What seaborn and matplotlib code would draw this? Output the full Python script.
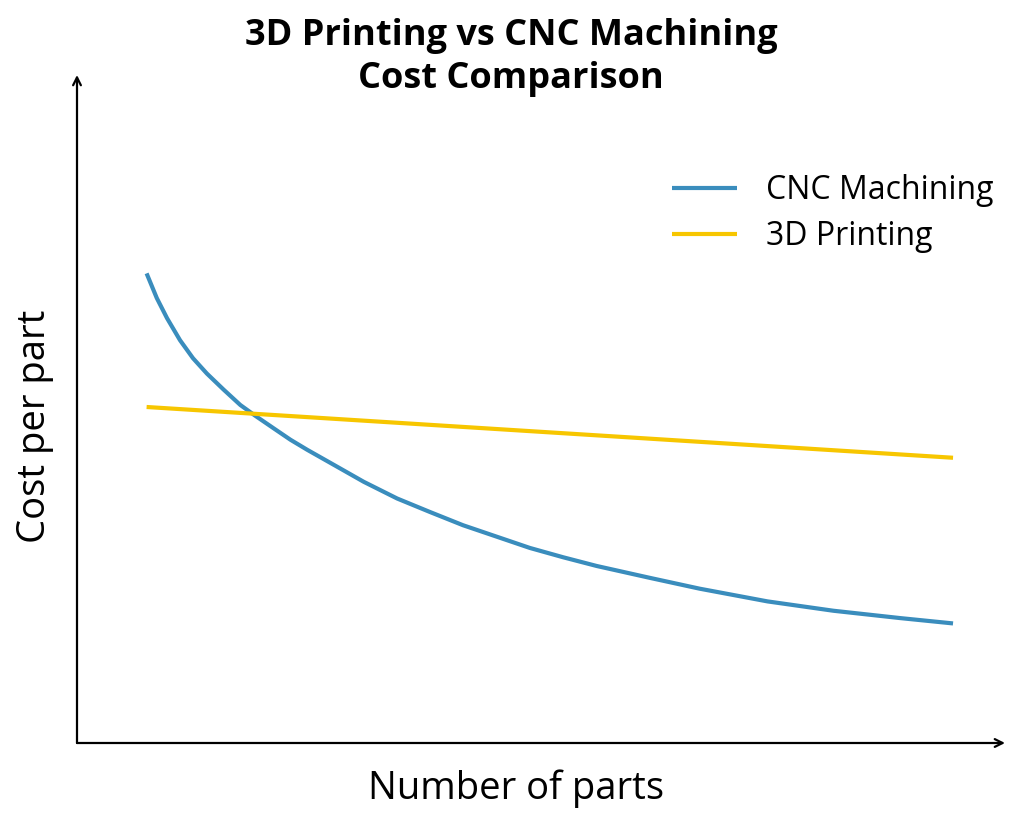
import pandas as pd
import matplotlib.pyplot as plt
import seaborn as sns

# Datos (unidades arbitrarias)
cnc_parts = [75, 86, 97, 111, 125, 140, 158, 176, 192, 212, 230, 248, 276, 309,
             345, 380, 416, 452, 488, 524, 560, 618, 671, 744, 815, 887, 944]
cnc_cost = [70.3, 66.6, 63.6, 60.3, 57.6, 55.3, 52.9, 50.6, 49.0, 47.1, 45.4, 43.9,
            41.7, 39.1, 36.6, 34.6, 32.6, 30.9, 29.2, 27.8, 26.5, 24.7, 23.1, 21.2,
            19.8, 18.7, 17.9]
print_parts = [75, 944]
print_cost = [50.3, 42.7]

series_names = ['CNC Machining', '3D Printing']
series_colors = ['#3a8dbd', '#f7c600']

df = pd.concat([
    pd.DataFrame({'parts': cnc_parts, 'cost': cnc_cost, 'method': series_names[0]}),
    pd.DataFrame({'parts': print_parts, 'cost': print_cost, 'method': series_names[1]}),
])

sns.set_style('white')
plt.rcParams['font.family'] = ['Open Sans', 'DejaVu Sans']
plt.rcParams['text.color'] = 'black'

fig = plt.figure(figsize=(10.17, 8.17), dpi=100)
ax = fig.add_axes([77 / 1017, 74 / 817, 928 / 1017, 668 / 817])

sns.lineplot(data=df, x='parts', y='cost', hue='method', hue_order=series_names,
             palette=series_colors, estimator=None, sort=True, linewidth=3,
             ax=ax)
for line in ax.get_lines():
    line.set_solid_capstyle('butt')
    line.set_solid_joinstyle('round')

ax.set_xlim(0, 1000)
ax.set_ylim(0, 100)
ax.set_xticks([])
ax.set_yticks([])
ax.set_xlabel('')
ax.set_ylabel('')
for s in ax.spines.values():
    s.set_visible(False)

# Ejes con flechas
arrow = dict(arrowstyle='->', color='black', lw=1.6, shrinkA=0, shrinkB=0,
             mutation_scale=14)
ax.annotate('', xy=(1, 0), xytext=(0, 0), xycoords='axes fraction', arrowprops=arrow)
ax.annotate('', xy=(0, 1), xytext=(0, 0), xycoords='axes fraction', arrowprops=arrow)

leg = ax.legend(loc='upper left', bbox_to_anchor=(672 / 1017, 1 - 174 / 817),
                bbox_transform=fig.transFigure, frameon=False, fontsize=23,
                handlelength=2.05, handletextpad=0.9, labelspacing=0.42,
                borderpad=0, borderaxespad=0)
for h in leg.get_lines():
    h.set_linewidth(3)

fig.text(511 / 1017, 1 - 45 / 817, '3D Printing vs CNC Machining', ha='center',
         va='baseline', fontsize=26, fontweight='bold')
fig.text(511 / 1017, 1 - 88 / 817, 'Cost Comparison', ha='center',
         va='baseline', fontsize=26, fontweight='bold')
fig.text(516 / 1017, 1 - 799 / 817, 'Number of parts', ha='center', va='baseline',
         fontsize=27.5)
fig.text(35 / 1017, 1 - 426 / 817, 'Cost per part', ha='center', va='center',
         fontsize=27.5, rotation=90)

fig.savefig('out.png', dpi=100)
